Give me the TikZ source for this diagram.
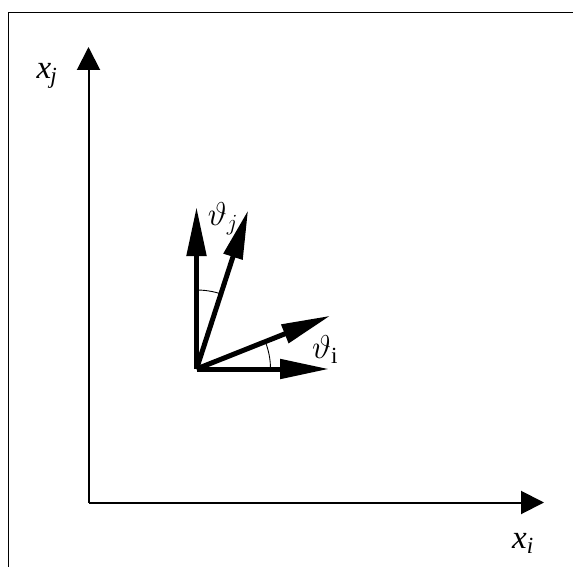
\RequirePackage{fix-cm}
\documentclass[tikz,border=0pt]{standalone}
\usepackage{fontspec}
\setmainfont{Liberation Serif}
\usetikzlibrary{arrows.meta,calc}
\begin{document}
\begin{tikzpicture}[x=1pt,y=-1pt,
  axis/.style={line width=2pt,-{Triangle[length=23pt,width=23pt]}},
  vec/.style={line width=5pt,-{Triangle[length=49pt,width=19pt]}},
  anglearc/.style={line width=0.9pt},
  lbl/.style={inner sep=0pt,font=\fontsize{33}{38}\selectfont\itshape},
  glbl/.style={inner sep=0pt,font=\fontsize{33}{38}\selectfont}]
\useasboundingbox (0,0) rectangle (573,567);
\draw[line width=1pt] (8.3,567) -- (8.3,12.3) -- (573,12.3);
\coordinate (O) at (88.5,502.5);
\coordinate (Y) at (88.5,47);
\coordinate (X) at (544,502.5);
\draw[axis] (O) -- (Y);
\draw[axis] (O) -- (X);
\node[lbl] (xj) at (47,76) {x\textsubscript{\kern-1pt j}};
\node[lbl] (xi) at (523,543) {x\textsubscript{i}};
\coordinate (o) at (196.5,369);
\coordinate (ev) at (196.5,207);
\coordinate (eh) at (329,369);
\draw[vec] (o) -- (ev);
\draw[vec] (o) -- (eh);
\draw[vec] (o) -- ++(-72:167) coordinate (tj);
\draw[vec] (o) -- ++(-21.7:144) coordinate (ti);
\draw[anglearc] ($(o)+(0,-79)$) arc[start angle=-90, end angle=-72, radius=79];
\draw[anglearc] ($(o)+(74,0)$) arc[start angle=0, end angle=-21.7, radius=74];
\node[glbl] (tjl) at (223,219) {$\vartheta_j$};
\node[glbl] (til) at (325,350) {$\vartheta_{\mathrm{i}}$};
\end{tikzpicture}
\end{document}
